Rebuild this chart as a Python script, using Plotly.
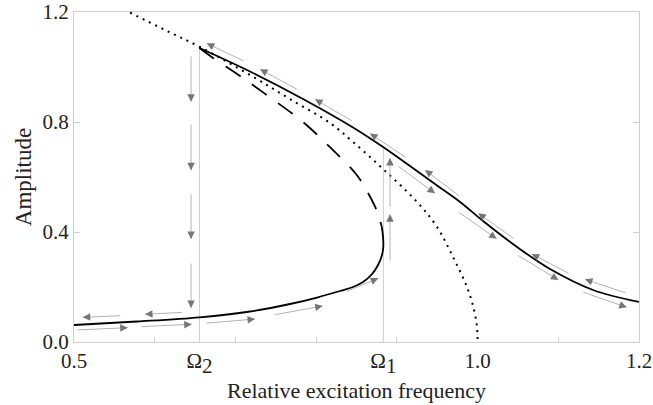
import plotly.graph_objects as go

# ---------------- data ----------------
omega2 = 0.6555
omega1 = 0.8833

upper_x = [0.6555, 0.7193, 0.7837, 0.8457, 0.8829, 0.9163, 0.9498, 0.9783,
           1.0068, 1.0489, 1.0898, 1.1431, 1.2]
upper_y = [1.069, 0.9818, 0.8836, 0.7800, 0.7091, 0.6400, 0.5691, 0.5091,
           0.440, 0.3455, 0.2655, 0.1891, 0.1455]

unstable_x = [0.6555, 0.6722, 0.7057, 0.7441, 0.7837, 0.8184, 0.8494, 0.8643,
              0.8754, 0.8813]
unstable_y = [1.069, 1.033, 0.967, 0.887, 0.800, 0.705, 0.611, 0.542,
              0.476, 0.4193]

lower_x = [0.5, 0.5781, 0.6555, 0.7181, 0.7676, 0.8011, 0.8296, 0.8457,
           0.8581, 0.8693, 0.8767, 0.8816, 0.8832, 0.8829, 0.8813]
lower_y = [0.0618, 0.0745, 0.0898, 0.1109, 0.1382, 0.1618, 0.1855, 0.2000,
           0.2182, 0.2473, 0.2800, 0.3164, 0.3455, 0.3818, 0.4193]

backbone_x = [0.5694, 0.6128, 0.6561, 0.7181, 0.7676, 0.8172, 0.8457, 0.8829,
              0.9250, 0.9498, 0.9696, 0.9869, 0.9956, 0.9993, 1.0]
backbone_y = [1.198, 1.1345, 1.0727, 0.9709, 0.8836, 0.7964, 0.7273, 0.6291,
              0.5091, 0.4182, 0.3091, 0.2000, 0.1164, 0.0545, 0.0]

# arrows: tail -> tip
arrow_tail_x = [0.7119, 0.7779, 0.8461, 0.9122, 0.9783, 1.0465, 1.1146, 1.1848,
                0.8998, 0.9758, 1.0485, 1.1290,
                0.5591, 0.6354,
                0.5025, 0.5818, 0.6623, 0.7469, 0.8358,
                0.645, 0.645, 0.645, 0.645,
                0.8915, 0.8915]
arrow_tail_y = [1.0193, 0.9164, 0.8011, 0.6691, 0.5284, 0.3727, 0.2473, 0.1771,
                0.6436, 0.4738, 0.3182, 0.1829,
                0.0956, 0.1080,
                0.0436, 0.0556, 0.0680, 0.0982, 0.1818,
                1.044, 0.796, 0.542, 0.291,
                0.291, 0.487]
arrow_tip_x = [0.6644, 0.7305, 0.7986, 0.8667, 0.9349, 1.0009, 1.0671, 1.1331,
               0.9473, 1.0237, 1.1001, 1.1848,
               0.5108, 0.5880,
               0.5665, 0.6458, 0.7243, 0.8081, 0.8770,
               0.645, 0.645, 0.645, 0.645,
               0.8915, 0.8915]
arrow_tip_y = [1.0862, 0.9916, 0.8825, 0.7582, 0.6255, 0.4680, 0.3200, 0.2280,
               0.5407, 0.3753, 0.2255, 0.1262,
               0.0898, 0.1007,
               0.0520, 0.0644, 0.0836, 0.1309, 0.2316,
               0.874, 0.625, 0.375, 0.124,
               0.465, 0.669]

x_tickvals = [0.5, omega2, omega1, 1.0, 1.2]
x_ticktext = ["0.5",
              "Ω<sub><span style='font-size:21px'>2</span></sub>",
              "Ω<sub><span style='font-size:21px'>1</span></sub>",
              "1.0", "1.2"]
x_minor = [0.6, 0.7, 0.8, 0.9, 1.1]
y_tickvals = [0.0, 0.4, 0.8, 1.2]
y_ticktext = ["0.0", "0.4", "0.8", "1.2"]

# ---------------- figure ----------------
FONT = "Liberation Serif"
GRID = "#cfcfcf"
TXT = "#222222"
ARROW_LINE = "#b2b2b2"
ARROW_HEAD = "#767676"

fig = go.Figure()

# jump lines
fig.add_trace(go.Scatter(x=[omega2, omega2], y=[0, upper_y[0]], mode="lines",
                         line=dict(color=GRID, width=1), hoverinfo="skip"))
fig.add_trace(go.Scatter(x=[omega1, omega1], y=[0, upper_y[4]], mode="lines",
                         line=dict(color=GRID, width=1), hoverinfo="skip"))

fig.add_trace(go.Scatter(x=backbone_x, y=backbone_y, mode="lines",
                         line=dict(color="black", width=2, dash="2px,5px",
                                   shape="spline", smoothing=1.0)))
fig.add_trace(go.Scatter(x=unstable_x, y=unstable_y, mode="lines",
                         line=dict(color="black", width=1.8, dash="18px,14px",
                                   shape="spline", smoothing=1.0)))
fig.add_trace(go.Scatter(x=upper_x, y=upper_y, mode="lines",
                         line=dict(color="black", width=1.8,
                                   shape="spline", smoothing=1.0)))
fig.add_trace(go.Scatter(x=lower_x, y=lower_y, mode="lines",
                         line=dict(color="black", width=1.8,
                                   shape="spline", smoothing=1.0)))

for tx, ty, hx, hy in zip(arrow_tail_x, arrow_tail_y, arrow_tip_x, arrow_tip_y):
    # light shaft
    fig.add_annotation(x=hx, y=hy, ax=tx, ay=ty, xref="x", yref="y",
                       axref="x", ayref="y", text="", showarrow=True,
                       arrowhead=0, arrowwidth=1, arrowcolor=ARROW_LINE)
    # darker head (short segment near the tip)
    sx = hx + 0.14 * (tx - hx)
    sy = hy + 0.14 * (ty - hy)
    fig.add_annotation(x=hx, y=hy, ax=sx, ay=sy, xref="x", yref="y",
                       axref="x", ayref="y", text="", showarrow=True,
                       arrowhead=2, arrowsize=1.5, arrowwidth=1,
                       arrowcolor=ARROW_HEAD)

fig.update_layout(
    width=653, height=405,
    margin=dict(l=74, r=14, t=12, b=63, autoexpand=False),
    paper_bgcolor="white", plot_bgcolor="white",
    showlegend=False,
    font=dict(family=FONT, size=21, color=TXT),
    xaxis=dict(range=[0.5, 1.2], tickvals=x_tickvals, ticktext=x_ticktext,
               automargin=False,
               showgrid=False, zeroline=False, showline=True, linecolor=GRID,
               linewidth=1, mirror=True, ticks="", ticklen=0,
               tickfont=dict(family=FONT, size=21, color=TXT),
               minor=dict(tickvals=x_minor, ticks="inside", ticklen=5,
                          tickcolor=GRID, showgrid=False),
               title=dict(text="Relative excitation frequency",
                          font=dict(family=FONT, size=22, color=TXT),
                          standoff=4)),
    yaxis=dict(range=[0, 1.2], tickvals=y_tickvals, ticktext=y_ticktext,
               automargin=False,
               showgrid=False, zeroline=False, showline=True, linecolor=GRID,
               linewidth=1, mirror="ticks", ticks="inside", ticklen=6,
               tickcolor=GRID,
               tickfont=dict(family=FONT, size=21, color=TXT),
               title=dict(text="Amplitude",
                          font=dict(family=FONT, size=23, color=TXT),
                          standoff=4)),
)

fig.write_html("out.html",
               config={"displayModeBar": False},
               post_script="document.body.style.margin='0';"
                           "document.body.style.overflow='hidden';")
